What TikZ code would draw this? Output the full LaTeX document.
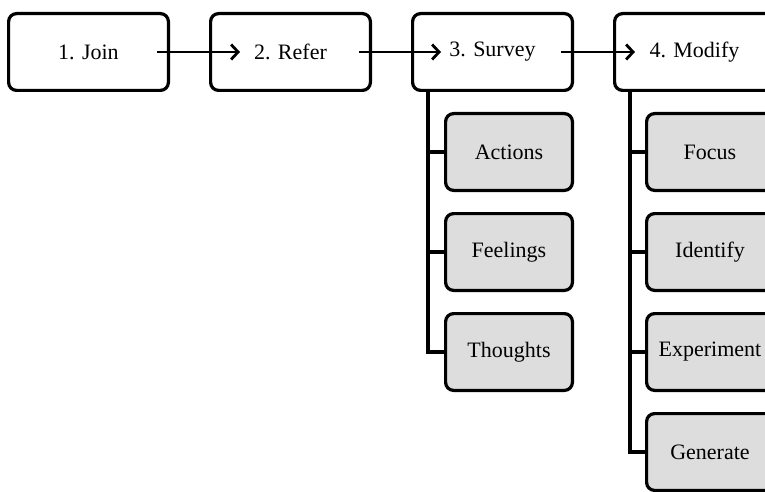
\documentclass[tikz,border=0pt]{standalone}
\usepackage{fontspec}
\setmainfont{Liberation Serif}
\usepackage{tikz}
\usetikzlibrary{positioning, arrows.meta}
\definecolor{subgray}{RGB}{221,221,221}
\tikzstyle{stage} = [rectangle, rounded corners=8pt, minimum width=159.8pt,
  minimum height=76.8pt, text centered, draw=black, line width=3.2pt, fill=white,
  font=\fontsize{22}{26}\selectfont]
\tikzstyle{sub} = [rectangle, rounded corners=8pt, minimum width=126.8pt,
  minimum height=76.8pt, text centered, draw=black, line width=3.2pt,
  fill=subgray, font=\fontsize{22}{26}\selectfont]
\tikzstyle{arrow} = [line width=2.8pt, -{Straight Barb[length=7pt,width=15pt]}]
\tikzstyle{link} = [line width=3.2pt]

\begin{document}
\begin{tikzpicture}[node distance=39pt]
  \useasboundingbox (0,0) rectangle (765pt,-492pt);
  \clip (0,0) rectangle (765pt,-492pt);
  \node (join) [stage] at (88.5pt,-52pt) {1. Join};
  \node (refer) [stage, right=of join] {2. Refer};
  \node (survey) [stage, right=of refer] {3. Survey};
  \node (modify) [stage, right=of survey] {4. Modify};

  \node (actions) [sub, below=20pt of survey.south east, anchor=north east] {Actions};
  \node (feelings) [sub, below=20pt of actions] {Feelings};
  \node (thoughts) [sub, below=20pt of feelings] {Thoughts};

  \node (focus) [sub, below=20pt of modify.south west, anchor=north west,
    xshift=32pt] {Focus};
  \node (identify) [sub, below=20pt of focus] {Identify};
  \node (experiment) [sub, below=20pt of identify] {Experiment};
  \node (generate) [sub, below=20pt of experiment] {Generate};

  \coordinate (strunk) at ([xshift=17pt]survey.south west);
  \coordinate (mtrunk) at ([xshift=17pt]modify.south west);

  \draw [arrow] ([xshift=-13pt]join.east) -- ([xshift=31pt]refer.west);
  \draw [arrow] ([xshift=-13pt]refer.east) -- ([xshift=30pt]survey.west);
  \draw [arrow] ([xshift=-13pt]survey.east) -- ([xshift=22pt]modify.west);

  \draw [link] (strunk) |- (actions.west);
  \draw [link] (strunk) |- (feelings.west);
  \draw [link] (strunk) |- (thoughts.west);
  \draw [link] (mtrunk) |- (focus.west);
  \draw [link] (mtrunk) |- (identify.west);
  \draw [link] (mtrunk) |- (experiment.west);
  \draw [link] (mtrunk) |- (generate.west);
\end{tikzpicture}
\end{document}
